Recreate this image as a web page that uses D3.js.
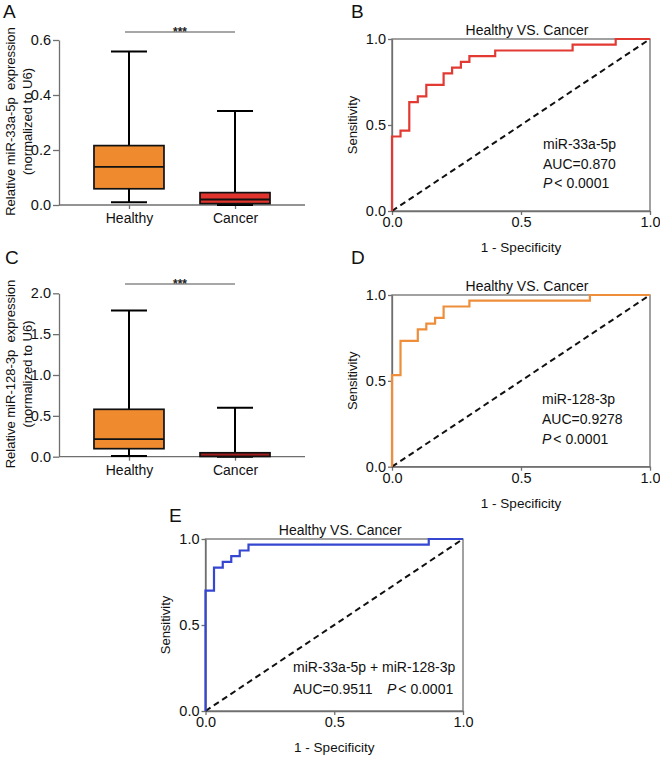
<!DOCTYPE html>
<html>
<head>
<meta charset="utf-8">
<script src="https://cdn.jsdelivr.net/npm/d3@7"></script>
<style>
  html, body { margin: 0; padding: 0; background: #fff; }
  svg { display: block; font-family: Arial, "Liberation Sans", Helvetica, sans-serif; }
  text { white-space: pre; }
</style>
</head>
<body>
<svg id="chart" width="660" height="757"></svg>
<script>
// ---------------- DATA ----------------
const boxCategories = ["Healthy", "Cancer"];

// Panel A: miR-33a-5p (Healthy, Cancer)
const mir33Min    = [0.010, 0.000];
const mir33Q1     = [0.059, 0.005];
const mir33Median = [0.139, 0.020];
const mir33Q3     = [0.216, 0.045];
const mir33Max    = [0.558, 0.342];
const mir33Ticks  = [0.0, 0.2, 0.4, 0.6];

// Panel C: miR-128-3p (Healthy, Cancer)
const mir128Min    = [0.008, 0.000];
const mir128Q1     = [0.098, 0.003];
const mir128Median = [0.216, 0.020];
const mir128Q3     = [0.580, 0.048];
const mir128Max    = [1.790, 0.600];
const mir128Ticks  = [0.0, 0.5, 1.0, 1.5, 2.0];

// ROC curves (1 - specificity, sensitivity) corner points
const rocBFpr = [0, 0, 0.033, 0.067, 0.100, 0.133, 0.200, 0.233, 0.267, 0.300, 0.400, 0.700, 0.867, 1];
const rocBTpr = [0, 0.433, 0.467, 0.633, 0.667, 0.733, 0.800, 0.833, 0.867, 0.900, 0.933, 0.967, 1, 1];

const rocDFpr = [0, 0, 0.033, 0.100, 0.133, 0.167, 0.200, 0.300, 0.767, 1];
const rocDTpr = [0, 0.533, 0.733, 0.800, 0.833, 0.867, 0.933, 0.967, 1, 1];

const rocEFpr = [0, 0, 0.033, 0.067, 0.100, 0.133, 0.167, 0.867, 1];
const rocETpr = [0, 0.700, 0.833, 0.867, 0.900, 0.933, 0.967, 1, 1];

const rocTicks = [0, 0.5, 1];

// ---------------- DRAW ----------------
const svg = d3.select("#chart");
const FONT = 'Arial, "Liberation Sans", Helvetica, sans-serif';
const AXIS = "#6f6f6f";

function panelLabel(t, x, y) {
  svg.append("text").attr("x", x).attr("y", y).attr("font-size", 19).attr("fill", "#111").text(t);
}

function boxPanel(cfg) {
  const g = svg.append("g");
  const x = d3.scalePoint().domain(boxCategories).range([cfg.x0, cfg.x1]).padding(0.66);
  const y = d3.scaleLinear().domain([0, cfg.yMax]).range([cfg.yBottom, cfg.yTop]);
  const bw = 70, cw = 36;

  const rows = boxCategories.map((c, i) => ({
    c, min: cfg.min[i], q1: cfg.q1[i], med: cfg.median[i], q3: cfg.q3[i], max: cfg.max[i], fill: cfg.fills[i]
  }));

  // axes
  const ya = g.append("g").attr("transform", `translate(${cfg.x0},0)`)
    .call(d3.axisLeft(y).tickValues(cfg.ticks).tickFormat(d3.format(".1f")).tickSize(6).tickSizeOuter(0).tickPadding(2));
  ya.select(".domain").attr("stroke", AXIS).attr("stroke-width", 1.3);
  ya.selectAll(".tick line").attr("stroke", AXIS).attr("stroke-width", 1.3);
  ya.selectAll(".tick text").attr("font-size", 14.5).attr("font-family", FONT).attr("fill", "#111");

  const xa = g.append("g").attr("transform", `translate(0,${cfg.yBottom})`)
    .call(d3.axisBottom(x).tickSize(4).tickSizeOuter(0).tickPadding(4));
  xa.select(".domain").attr("stroke", AXIS).attr("stroke-width", 1.3)
    .attr("d", `M${cfg.x0},0H${cfg.x1}`);
  xa.selectAll(".tick line").attr("stroke", AXIS).attr("stroke-width", 1.3);
  xa.selectAll(".tick text").attr("font-size", 14).attr("font-family", FONT).attr("fill", "#111");

  const b = g.selectAll(".bx").data(rows).join("g");
  // whisker stem
  b.append("line").attr("x1", d => x(d.c)).attr("x2", d => x(d.c))
    .attr("y1", d => y(d.min)).attr("y2", d => y(d.max)).attr("stroke", "#000").attr("stroke-width", 2);
  // caps
  b.append("line").attr("x1", d => x(d.c) - cw / 2).attr("x2", d => x(d.c) + cw / 2)
    .attr("y1", d => y(d.max)).attr("y2", d => y(d.max)).attr("stroke", "#000").attr("stroke-width", 2);
  b.append("line").attr("x1", d => x(d.c) - cw / 2).attr("x2", d => x(d.c) + cw / 2)
    .attr("y1", d => y(d.min)).attr("y2", d => y(d.min)).attr("stroke", "#000").attr("stroke-width", 2);
  // box
  b.append("rect").attr("x", d => x(d.c) - bw / 2).attr("width", bw)
    .attr("y", d => y(d.q3)).attr("height", d => Math.max(1, y(d.q1) - y(d.q3)))
    .attr("fill", d => d.fill).attr("stroke", "#111").attr("stroke-width", 1.7);
  // median
  b.append("line").attr("x1", d => x(d.c) - bw / 2).attr("x2", d => x(d.c) + bw / 2)
    .attr("y1", d => y(d.med)).attr("y2", d => y(d.med)).attr("stroke", "#111")
    .attr("stroke-width", d => (y(d.q1) - y(d.q3) < 6 ? 0 : 1.8));

  // significance bar
  g.append("line").attr("x1", x(boxCategories[0]) - 4).attr("x2", x(boxCategories[1]))
    .attr("y1", cfg.sigY).attr("y2", cfg.sigY).attr("stroke", "#8a8a8a").attr("stroke-width", 1.5);
  g.append("text").attr("x", (x(boxCategories[0]) + x(boxCategories[1])) / 2 - 2).attr("y", cfg.sigY + 3.5)
    .attr("text-anchor", "middle").attr("font-size", 12).attr("font-weight", "bold").attr("fill", "#222").text("***");

  // y title (two lines)
  const cy = (cfg.yTop + cfg.yBottom) / 2 - 1;
  g.append("text").attr("transform", `translate(10,${cy}) rotate(-90)`)
    .attr("text-anchor", "middle").attr("dominant-baseline", "central").attr("font-size", 13).attr("fill", "#111")
    .text(cfg.title1);
  g.append("text").attr("transform", `translate(27,${cy}) rotate(-90)`)
    .attr("text-anchor", "middle").attr("dominant-baseline", "central").attr("font-size", 13).attr("fill", "#111")
    .text("(normalized to U6)");
}

function rocPanel(cfg) {
  const g = svg.append("g");
  const x = d3.scaleLinear().domain([0, 1]).range([cfg.x0, cfg.x1]);
  const y = d3.scaleLinear().domain([0, 1]).range([cfg.y1, cfg.y0]);

  // frame
  g.append("rect").attr("x", cfg.x0).attr("y", cfg.y0).attr("width", cfg.x1 - cfg.x0).attr("height", cfg.y1 - cfg.y0)
    .attr("fill", "none").attr("stroke", AXIS).attr("stroke-width", 1.3);

  const ya = g.append("g").attr("transform", `translate(${cfg.x0},0)`)
    .call(d3.axisLeft(y).tickValues(rocTicks).tickFormat(d3.format(".1f")).tickSize(4).tickSizeOuter(0).tickPadding(2));
  ya.select(".domain").attr("stroke", AXIS).attr("stroke-width", 1.3);
  ya.selectAll(".tick line").attr("stroke", AXIS).attr("stroke-width", 1.3);
  ya.selectAll(".tick text").attr("font-size", 14.5).attr("font-family", FONT).attr("fill", "#111");

  const xa = g.append("g").attr("transform", `translate(0,${cfg.y1})`)
    .call(d3.axisBottom(x).tickValues(rocTicks).tickFormat(d3.format(".1f")).tickSize(4).tickSizeOuter(0).tickPadding(2));
  xa.select(".domain").attr("stroke", AXIS).attr("stroke-width", 1.3);
  xa.selectAll(".tick line").attr("stroke", AXIS).attr("stroke-width", 1.3);
  xa.selectAll(".tick text").attr("font-size", 14.5).attr("font-family", FONT).attr("fill", "#111");

  // diagonal reference
  g.append("line").attr("x1", x(0)).attr("y1", y(0)).attr("x2", x(1)).attr("y2", y(1))
    .attr("stroke", "#111").attr("stroke-width", 2).attr("stroke-dasharray", "6,4");

  // ROC curve
  const pts = cfg.fpr.map((f, i) => [f, cfg.tpr[i]]);
  g.append("path").datum(pts)
    .attr("d", d3.line().x(d => x(d[0])).y(d => y(d[1])).curve(d3.curveStepAfter))
    .attr("fill", "none").attr("stroke", cfg.color).attr("stroke-width", 2.2);

  // title
  g.append("text").attr("x", (cfg.x0 + cfg.x1) / 2 + 6).attr("y", cfg.y0 - 4)
    .attr("text-anchor", "middle").attr("font-size", 14).attr("fill", "#111").text("Healthy VS. Cancer");
  // axis titles
  g.append("text").attr("x", (cfg.x0 + cfg.x1) / 2).attr("y", cfg.y1 + 41)
    .attr("text-anchor", "middle").attr("font-size", 13.5).attr("fill", "#111").text("1 - Specificity");
  g.append("text").attr("transform", `translate(${cfg.x0 - 40},${(cfg.y0 + cfg.y1) / 2}) rotate(-90)`)
    .attr("text-anchor", "middle").attr("dominant-baseline", "central").attr("font-size", 13).attr("fill", "#111")
    .text("Sensitivity");

  // annotations
  cfg.notes.forEach(n => {
    const t = g.append("text").attr("x", n.x).attr("y", n.y).attr("font-size", 14).attr("fill", "#111");
    if (n.p) {
      t.append("tspan").attr("font-style", "italic").text("P");
      t.append("tspan").attr("dx", 2).text("< 0.0001");
    } else {
      t.text(n.t);
    }
  });
}

// Panel A
boxPanel({
  x0: 59, x1: 305, yTop: 40, yBottom: 205, yMax: 0.6, ticks: mir33Ticks,
  min: mir33Min, q1: mir33Q1, median: mir33Median, q3: mir33Q3, max: mir33Max,
  fills: ["#ef8a2f", "#e0342d"], sigY: 32,
  title1: "Relative miR-33a-5p  expression"
});
panelLabel("A", 3, 18);

// Panel C
boxPanel({
  x0: 59, x1: 305, yTop: 293.3, yBottom: 456.7, yMax: 2.0, ticks: mir128Ticks,
  min: mir128Min, q1: mir128Q1, median: mir128Median, q3: mir128Q3, max: mir128Max,
  fills: ["#ef8a2f", "#a01e1e"], sigY: 284,
  title1: "Relative miR-128-3p  expression"
});
panelLabel("C", 5, 264);

// Panel B
rocPanel({
  x0: 392, x1: 650, y0: 39, y1: 211, fpr: rocBFpr, tpr: rocBTpr, color: "#e23a33",
  notes: [{ x: 543, y: 149, t: "miR-33a-5p" }, { x: 543, y: 169, t: "AUC=0.870" }, { x: 543, y: 188, p: true }]
});
panelLabel("B", 351, 18);

// Panel D
rocPanel({
  x0: 392, x1: 650, y0: 295, y1: 466.7, fpr: rocDFpr, tpr: rocDTpr, color: "#ee8d3a",
  notes: [{ x: 542, y: 404, t: "miR-128-3p" }, { x: 542, y: 424, t: "AUC=0.9278" }, { x: 542, y: 444, p: true }]
});
panelLabel("D", 351, 264);

// Panel E
rocPanel({
  x0: 205.5, x1: 463, y0: 539, y1: 711, fpr: rocEFpr, tpr: rocETpr, color: "#3547d0",
  notes: [{ x: 293, y: 672, t: "miR-33a-5p + miR-128-3p" }, { x: 293, y: 694, t: "AUC=0.9511" }, { x: 387, y: 694, p: true }]
});
panelLabel("E", 169, 522);
</script>
</body>
</html>
